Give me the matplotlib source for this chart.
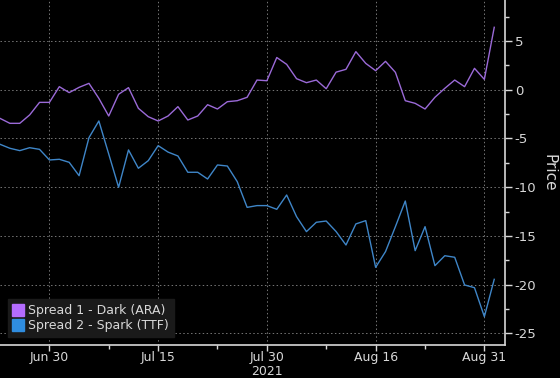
import matplotlib.pyplot as plt
from matplotlib.lines import Line2D
from matplotlib.ticker import MultipleLocator, FixedLocator

# business-day index 0..50 (Jun 23 .. Sep 1, 2021)
tick_pos = [5, 16, 27, 38, 49]
tick_labels = ["Jun 30", "Jul 15", "Jul 30", "Aug 16", "Aug 31"]
minor_pos = [11, 22, 33, 43]

dark_ara = [-2.94, -3.45, -3.45, -2.59, -1.30, -1.30, 0.31, -0.30, 0.24, 0.65,
            -0.89, -2.70, -0.47, 0.21, -1.91, -2.77, -3.21, -2.70, -1.74, -3.11,
            -2.70, -1.54, -1.98, -1.23, -1.13, -0.78, 0.99, 0.92, 3.30, 2.60,
            1.13, 0.72, 0.99, 0.10, 1.80, 2.09, 3.90, 2.70, 1.95, 2.91,
            1.78, -1.13, -1.40, -1.98, -0.78, 0.14, 0.99, 0.31, 2.19, 1.06,
            6.40]
spark_ttf = [-5.60, -6.01, -6.25, -5.95, -6.12, -7.21, -7.14, -7.45, -8.82, -4.92,
             -3.21, -6.60, -10.01, -6.18, -8.06, -7.28, -5.74, -6.40, -6.80, -8.47,
             -8.47, -9.16, -7.72, -7.83, -9.43, -12.07, -11.89, -11.89, -12.27, -10.80,
             -13.02, -14.56, -13.60, -13.47, -14.55, -15.93, -13.77, -13.43, -18.22, -16.61,
             -14.05, -11.42, -16.51, -14.05, -18.05, -17.03, -17.19, -20.03, -20.31, -23.28,
             -19.45]

fg = "#d8d8d8"

fig = plt.figure(figsize=(5.6, 3.78), dpi=100, facecolor="black")
ax = fig.add_axes([0.0, 0.087, 0.902, 0.913], facecolor="black")

x = list(range(len(dark_ara)))
ax.plot(x, dark_ara, color="#9b6ad8", lw=1.0)
ax.plot(x, spark_ttf, color="#3f86c8", lw=1.0)

ax.set_xlim(0, 51.1)
ax.set_ylim(-26.2, 9.2)

ax.xaxis.set_major_locator(FixedLocator(tick_pos))
ax.set_xticklabels(tick_labels)
ax.xaxis.set_minor_locator(FixedLocator(minor_pos))
ax.yaxis.set_major_locator(MultipleLocator(5))
ax.yaxis.set_minor_locator(MultipleLocator(2.5))
ax.yaxis.tick_right()
ax.yaxis.set_label_position("right")
ax.yaxis.set_major_formatter(lambda v, p: f"{v:.0f}".replace("\u2212", "-"))

ax.grid(True, which="major", color="#777777", ls=(0, (1.5, 2.5)), lw=0.7)

for s in ["top", "left"]:
    ax.spines[s].set_visible(False)
for s in ["bottom", "right"]:
    ax.spines[s].set_color(fg)
    ax.spines[s].set_linewidth(1.2)

ax.tick_params(axis="both", which="major", colors=fg, labelsize=9.5, length=5, width=1)
ax.tick_params(axis="both", which="minor", colors=fg, length=3, width=1)
ax.tick_params(axis="x", labelsize=9, length=4, pad=0.5)
ax.tick_params(axis="y", pad=2)

ax.set_ylabel("Price", color=fg, fontsize=11, rotation=270, labelpad=14)
fig.text(0.476, 0.0, "2021", color=fg, fontsize=9, ha="center", va="bottom")

handles = [
    Line2D([], [], marker="s", ls="none", color="#b46cff", markersize=9),
    Line2D([], [], marker="s", ls="none", color="#2f8de0", markersize=9),
]
leg = ax.legend(handles, ["Spread 1 - Dark (ARA)", "Spread 2 - Spark (TTF)"],
                loc="lower left", bbox_to_anchor=(0.003, 0.005), frameon=True,
                fancybox=False, facecolor="#1a1a1a", edgecolor="#1a1a1a",
                framealpha=1, handlelength=0.8, handletextpad=0.4,
                labelspacing=0.15, borderpad=0.4, fontsize=9)
for t in leg.get_texts():
    t.set_color(fg)

fig.savefig("out.png", dpi=100, facecolor="black")
